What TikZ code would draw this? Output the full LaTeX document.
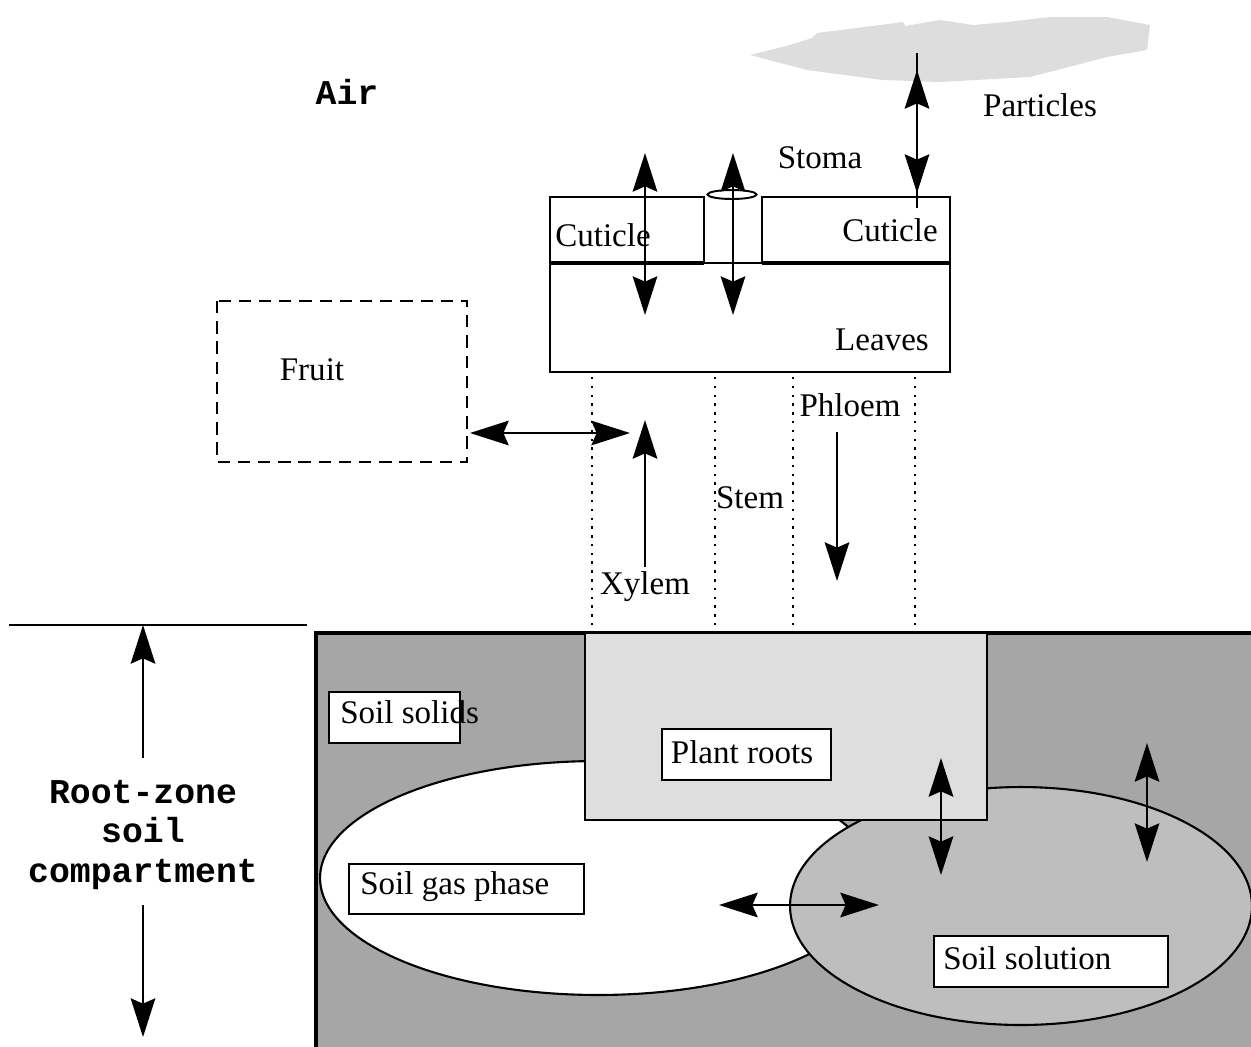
\documentclass[tikz,border=0pt]{standalone}
\usepackage{fontspec}
\setmainfont{Liberation Serif}
\setmonofont{Liberation Mono}
\usetikzlibrary{arrows.meta}
\definecolor{cloudgray}{HTML}{DDDDDD}
\definecolor{soilgray}{HTML}{A6A6A6}
\definecolor{solgray}{HTML}{BEBEBE}
\definecolor{rootgray}{HTML}{DEDEDE}
\begin{document}
\begin{tikzpicture}[x=0.02cm,y=-0.02cm,
  lbl/.style={font=\fontsize{18.8}{22}\selectfont, inner sep=0pt},
  mono/.style={font=\fontsize{19.8}{22.6}\selectfont\ttfamily\bfseries, inner sep=0pt, align=center},
  boxline/.style={line width=1.2pt},
  headtip/.tip={Stealth[length=22pt,width=14pt,inset=3pt]},
  dbl/.style={line width=1.1pt, headtip-headtip},
  one/.style={line width=1.1pt, -headtip},
  dotline/.style={line width=1.4pt, dash pattern=on 1.4pt off 3.6pt},
  fruitline/.style={line width=1.5pt, dash pattern=on 7pt off 4.5pt},
]
\useasboundingbox (0,0) rectangle (1251,1046);
\begin{scope}
\clip (0,0) rectangle (1251,1046);

% cloud
\fill[cloudgray] (750,55) -- (790,45) -- (812,38) -- (817,33) -- (880,25)
  -- (903,22) -- (905,26) -- (940,20) -- (973,25) -- (1007,22) -- (1050,17)
  -- (1107,17) -- (1150,25) -- (1147,50) -- (1107,57) -- (1030,77)
  -- (940,82) -- (883,80) -- (807,70) -- cycle;

% soil compartment
\fill[soilgray] (316,633) rectangle (1252,1047);
\filldraw[fill=white, boxline] (598,878) ellipse [x radius=5.56cm, y radius=2.34cm];
\filldraw[fill=solgray, boxline] (1021,906) ellipse [x radius=4.62cm, y radius=2.38cm];
\draw[line width=2.3pt] (316,1047) -- (316,633) -- (1252,633);
\filldraw[fill=rootgray, boxline] (585,633) rectangle (987,820);
\end{scope}

% left ground line and depth arrows
\coordinate (gl) at (9,625);
\coordinate (gr) at (307,625);
\draw[line width=1.1pt] (gl) -- (gr);
\node[mono] (rz) at (143,835) {Root-zone\\soil~\\compartment};
\coordinate (rzup0) at (143,758);
\coordinate (rzup1) at (143,625);
\coordinate (rzdn0) at (143,905);
\coordinate (rzdn1) at (143,1037);
\draw[one] (rzup0) -- (rzup1);
\draw[one] (rzdn0) -- (rzdn1);

% Air
\node[mono] (air) at (347,92) {Air};

% leaf structure
\draw[boxline] (550,197) rectangle (704,262);
\draw[boxline] (762,197) rectangle (950,262);
\draw[boxline] (550,263) rectangle (950,372);
\draw[line width=2.2pt] (550,263) -- (704,263);
\draw[line width=2.2pt] (762,263) -- (950,263);
\draw[line width=1.1pt, fill=white] (732,194.5) ellipse [x radius=0.49cm, y radius=0.09cm];

\node[lbl] (cutl) at (603,235) {Cuticle};
\node[lbl] (cutr) at (890,230) {Cuticle};
\node[lbl] (leaves) at (882,340) {Leaves};
\node[lbl] (stoma) at (820,158) {Stoma};
\node[lbl] (particles) at (1040,105) {Particles};

\coordinate (a1t) at (645,153);
\coordinate (a1b) at (645,315);
\coordinate (a2t) at (733,153);
\coordinate (a2b) at (733,315);
\draw[dbl] (a1b) -- (a1t);
\draw[dbl] (a2b) -- (a2t);

\coordinate (p0) at (917,53);
\coordinate (p1) at (917,208);
\coordinate (pt) at (917,70);
\coordinate (pb) at (917,193);
\draw[line width=1.1pt] (p0) -- (p1);
\draw[dbl] (pb) -- (pt);

% stem dotted lines
\foreach \xx in {592,715,793,915} \draw[dotline] (\xx,377) -- (\xx,630);
\node[lbl] (phloem) at (850,405) {Phloem};
\node[lbl] (stem) at (750,498) {Stem};
\node[lbl] (xylem) at (645,587) {Xylem};
\coordinate (xb) at (645,567);
\coordinate (xt) at (645,420);
\draw[one] (xb) -- (xt);
\coordinate (ft) at (837,432);
\coordinate (fb) at (837,581);
\draw[one] (ft) -- (fb);

% fruit
\draw[fruitline] (217,301) rectangle (467,462);
\node[lbl] (fruit) at (312,370) {Fruit};
\coordinate (fa0) at (470,433);
\coordinate (fa1) at (630,433);
\draw[dbl] (fa0) -- (fa1);

% soil boxes
\draw[boxline, fill=white] (329,692) rectangle (460,743);
\node[lbl, anchor=west] (solids) at (340,712) {Soil solids};
\draw[boxline, fill=white] (662,729) rectangle (831,780);
\node[lbl] (roots) at (742,752) {Plant roots};
\draw[boxline, fill=white] (349,864) rectangle (584,914);
\node[lbl, anchor=west] (gas) at (360,887) {Soil gas phase};
\draw[boxline, fill=white] (934,936) rectangle (1168,987);
\node[lbl, anchor=west] (sol) at (943,958) {Soil solution};

% soil arrows
\coordinate (s1t) at (941,758);
\coordinate (s1b) at (941,875);
\draw[dbl] (s1b) -- (s1t);
\coordinate (s2t) at (1147,743);
\coordinate (s2b) at (1147,862);
\draw[dbl] (s2b) -- (s2t);
\coordinate (s3l) at (719,905);
\coordinate (s3r) at (879,905);
\draw[dbl] (s3l) -- (s3r);
\end{tikzpicture}
\end{document}
